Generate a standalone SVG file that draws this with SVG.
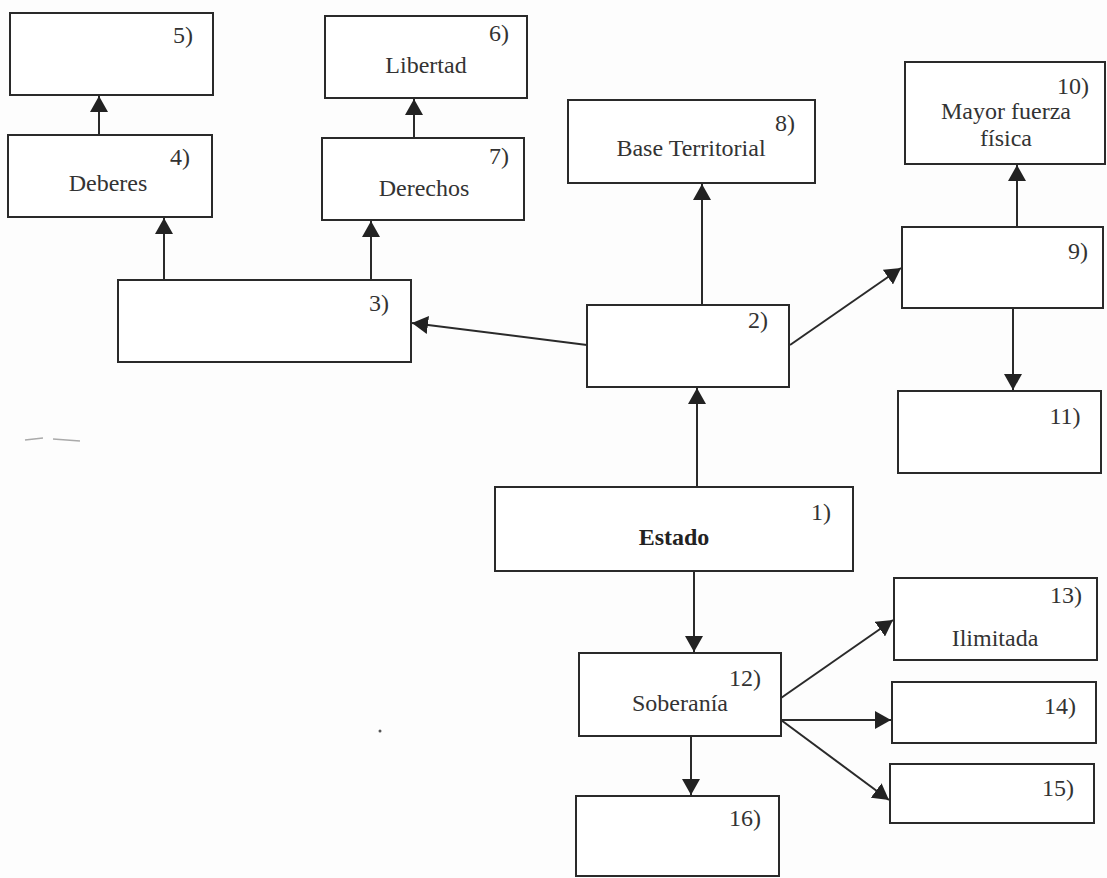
<svg xmlns="http://www.w3.org/2000/svg" width="1107" height="878" viewBox="0 0 1107 878">
<style>
.box{fill:#fff;stroke:#2a2a2a;stroke-width:2}
.t{font-family:"Liberation Serif","Times New Roman",serif;font-size:24px;fill:#333;text-anchor:middle}
.b{font-weight:bold;fill:#222}
.c{stroke:#2a2a2a;stroke-width:2;fill:none;marker-end:url(#ah)}
.smudge{stroke:#aaa;stroke-width:1.5;fill:none}
</style>
<defs>
<marker id="ah" markerUnits="userSpaceOnUse" markerWidth="17" markerHeight="18" refX="16" refY="9" orient="auto">
<path d="M0,0 L16,9 L0,18 z" fill="#222"/>
</marker>
</defs>
<rect width="1107" height="878" fill="#fdfdfd"/>
<g id="connectors">
<line class="c" x1="99" y1="135" x2="99" y2="96"/>
<line class="c" x1="414" y1="138" x2="414" y2="99"/>
<line class="c" x1="164" y1="280" x2="164" y2="218"/>
<line class="c" x1="371" y1="280" x2="371" y2="221"/>
<line class="c" x1="587" y1="345" x2="412" y2="323"/>
<line class="c" x1="702" y1="305" x2="702" y2="184"/>
<line class="c" x1="790" y1="345" x2="901" y2="268"/>
<line class="c" x1="1017" y1="227" x2="1017" y2="165"/>
<line class="c" x1="1013" y1="308" x2="1013" y2="390"/>
<line class="c" x1="697" y1="487" x2="697" y2="388"/>
<line class="c" x1="694" y1="571" x2="694" y2="652"/>
<line class="c" x1="781" y1="698" x2="893" y2="620"/>
<line class="c" x1="781" y1="720" x2="891" y2="720"/>
<line class="c" x1="781" y1="720" x2="889" y2="800"/>
<line class="c" x1="691" y1="736" x2="691" y2="795"/>
</g>
<g id="n1"><rect class="box" x="495" y="487" width="358" height="84"/><text class="t" x="821" y="520">1)</text><text class="t b" x="674" y="545">Estado</text></g>
<g id="n2"><rect class="box" x="587" y="305" width="202" height="82"/><text class="t" x="758" y="328">2)</text></g>
<g id="n3"><rect class="box" x="118" y="280" width="293" height="82"/><text class="t" x="379" y="311">3)</text></g>
<g id="n4"><rect class="box" x="8" y="135" width="204" height="82"/><text class="t" x="180" y="165">4)</text><text class="t" x="108" y="191">Deberes</text></g>
<g id="n5"><rect class="box" x="10" y="13" width="203" height="82"/><text class="t" x="183" y="43">5)</text></g>
<g id="n6"><rect class="box" x="325" y="16" width="202" height="82"/><text class="t" x="499" y="41">6)</text><text class="t" x="426" y="73">Libertad</text></g>
<g id="n7"><rect class="box" x="322" y="138" width="202" height="82"/><text class="t" x="499" y="164">7)</text><text class="t" x="424" y="196">Derechos</text></g>
<g id="n8"><rect class="box" x="568" y="100" width="247" height="83"/><text class="t" x="785" y="131">8)</text><text class="t" x="691" y="156">Base Territorial</text></g>
<g id="n9"><rect class="box" x="902" y="227" width="201" height="81"/><text class="t" x="1078" y="259">9)</text></g>
<g id="n10"><rect class="box" x="905" y="62" width="200" height="102"/><text class="t" x="1073" y="94">10)</text><text class="t" x="1006" y="119">Mayor fuerza</text><text class="t" x="1006" y="146">física</text></g>
<g id="n11"><rect class="box" x="898" y="391" width="203" height="82"/><text class="t" x="1065" y="424">11)</text></g>
<g id="n12"><rect class="box" x="579" y="653" width="202" height="83"/><text class="t" x="745" y="686">12)</text><text class="t" x="680" y="711">Soberanía</text></g>
<g id="n13"><rect class="box" x="894" y="578" width="203" height="82"/><text class="t" x="1066" y="603">13)</text><text class="t" x="995" y="646">Ilimitada</text></g>
<g id="n14"><rect class="box" x="892" y="682" width="204" height="61"/><text class="t" x="1060" y="714">14)</text></g>
<g id="n15"><rect class="box" x="890" y="764" width="204" height="59"/><text class="t" x="1058" y="796">15)</text></g>
<g id="n16"><rect class="box" x="576" y="796" width="203" height="80"/><text class="t" x="745" y="826">16)</text></g>
<g id="marks">
<path class="smudge" d="M25,440 L43,438 M53,439 L80,441"/>
<circle cx="380" cy="731" r="1.5" fill="#555"/>
</g>
</svg>
